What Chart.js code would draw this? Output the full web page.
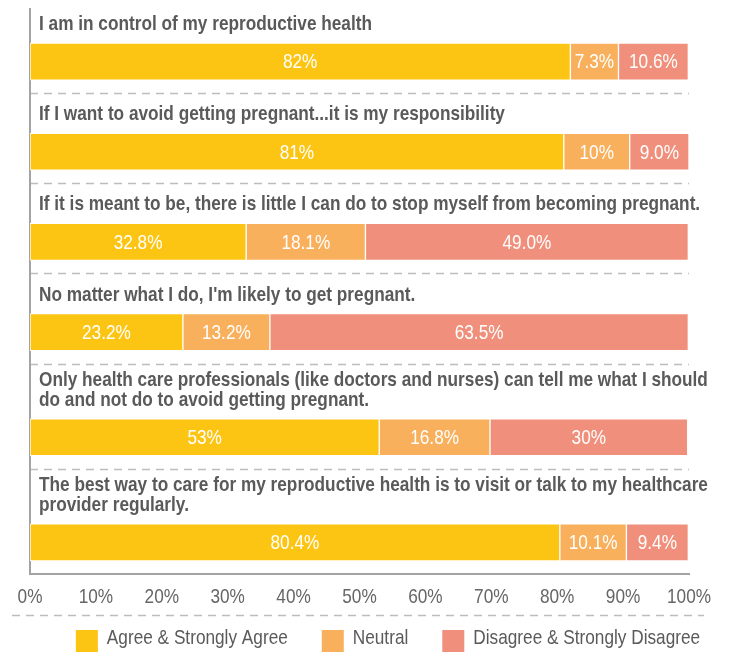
<!DOCTYPE html>
<html>
<head>
<meta charset="utf-8">
<script src="https://cdn.jsdelivr.net/npm/chart.js@4"></script>
<style>
  html, body { margin: 0; padding: 0; background: #fff; }
  #wrap { width: 730px; height: 652px; position: relative; }
</style>
</head>
<body>
<div id="wrap"><canvas id="chart"></canvas></div>
<script>
// ===== DATA =====
const statements = [
    ['I am in control of my reproductive health'],
    ['If I want to avoid getting pregnant...it is my responsibility'],
    ['If it is meant to be, there is little I can do to stop myself from becoming pregnant.'],
    ["No matter what I do, I'm likely to get pregnant."],
    ['Only health care professionals (like doctors and nurses) can tell me what I should',
     'do and not do to avoid getting pregnant.'],
    ['The best way to care for my reproductive health is to visit or talk to my healthcare',
     'provider regularly.']
];
// values kept as printed so the bar labels read exactly as the data
const agree    = ['82', '81', '32.8', '23.2', '53', '80.4'];
const neutral  = ['7.3', '10', '18.1', '13.2', '16.8', '10.1'];
const disagree = ['10.6', '9.0', '49.0', '63.5', '30', '9.4'];
const seriesNames = ['Agree & Strongly Agree', 'Neutral', 'Disagree & Strongly Disagree'];
const seriesColors = ['#fdc513', '#f9b05c', '#f0907c'];
const xTicks = [0, 10, 20, 30, 40, 50, 60, 70, 80, 90, 100];

const FONT = "'Liberation Sans', Arial, sans-serif";
const NARROW = 0.82;          // horizontal squeeze applied to all text
const TEXT_GRAY = '#5a5a5a';
const TICK_GRAY = '#666666';
const AXIS_GRAY = '#a3a3a3';
const DASH_GRAY = '#bdbdbd';

// ===== ROW LAYOUT (in y-scale units) =====
// each row: title lines, then the bar, then a little space before the divider
const LINE_H = 18, BAR_H = 37, AFTER_BAR = 13;
const rows = [];
let cursor = 0;
statements.forEach((lines, i) => {
    const top = cursor;
    const lead = i === 0 ? 17 : (lines.length > 1 ? 19 : 22);
    const barTop = top + lead + LINE_H * lines.length;
    const bottom = barTop + BAR_H + AFTER_BAR;
    rows.push({ top, barTop, center: barTop + BAR_H / 2, bottom, lines });
    cursor = bottom;
});
const totalHeight = cursor;

function buildSeries(values) {
    return values.map((v, i) => ({ x: Number(v), y: rows[i].center }));
}

const seriesValues = [agree, neutral, disagree];

// draw text squeezed horizontally, anchored at x
function narrowText(ctx, text, x, y, align) {
    ctx.save();
    ctx.translate(x, y);
    ctx.scale(NARROW, 1);
    ctx.textAlign = align;
    ctx.fillText(text, 0, 0);
    ctx.restore();
}

// ===== PLUGINS =====
const rowDecorations = {
    id: 'rowDecorations',
    beforeDatasetsDraw(chart) {
        const { ctx, chartArea, scales } = chart;
        const y = scales.y;
        ctx.save();
        // dashed dividers between rows
        ctx.strokeStyle = DASH_GRAY;
        ctx.lineWidth = 1.5;
        ctx.setLineDash([8, 6]);
        rows.slice(0, -1).forEach(r => {
            const py = Math.round(y.getPixelForValue(r.bottom)) + 0.5;
            ctx.beginPath();
            ctx.moveTo(chartArea.left, py);
            ctx.lineTo(chartArea.right, py);
            ctx.stroke();
        });
        // dashed line between tick labels and legend
        const bottomDash = chartArea.bottom + 41.5;
        ctx.beginPath();
        ctx.moveTo(12, bottomDash);
        ctx.lineTo(704, bottomDash);
        ctx.stroke();
        ctx.setLineDash([]);

        // left axis line
        ctx.strokeStyle = AXIS_GRAY;
        ctx.lineWidth = 2;
        ctx.beginPath();
        ctx.moveTo(chartArea.left, chartArea.top);
        ctx.lineTo(chartArea.left, chartArea.bottom);
        ctx.stroke();

        // statement titles
        ctx.fillStyle = TEXT_GRAY;
        ctx.font = 'bold 21px ' + FONT;
        ctx.textBaseline = 'alphabetic';
        rows.forEach(r => {
            const barTopPx = y.getPixelForValue(r.barTop);
            const n = r.lines.length;
            r.lines.forEach((line, k) => {
                const base = barTopPx - 13 - (n - 1 - k) * 20;
                narrowText(ctx, line, chartArea.left + 9, base, 'left');
            });
        });

        // x tick labels
        const x = scales.x;
        ctx.fillStyle = TICK_GRAY;
        ctx.font = '21px ' + FONT;
        ctx.textBaseline = 'middle';
        xTicks.forEach(v => {
            narrowText(ctx, v + '%', x.getPixelForValue(v), chartArea.bottom + 23, 'center');
        });
        ctx.restore();
    },
    afterDatasetsDraw(chart) {
        const { ctx } = chart;
        ctx.save();
        ctx.fillStyle = '#ffffff';
        ctx.font = '21px ' + FONT;
        ctx.textBaseline = 'middle';
        chart.data.datasets.forEach((ds, di) => {
            const meta = chart.getDatasetMeta(di);
            meta.data.forEach((bar, i) => {
                const { x, base, y } = bar.getProps(['x', 'base', 'y'], true);
                narrowText(ctx, seriesValues[di][i] + '%', (x + base) / 2, y + 1, 'center');
            });
        });
        ctx.restore();
    },
    afterDraw(chart) {
        // legend row
        const { ctx, chartArea } = chart;
        ctx.save();
        ctx.font = '21px ' + FONT;
        ctx.textBaseline = 'middle';
        const box = 22, gapText = 9, gapItem = 34;
        const widths = seriesNames.map(n => box + gapText + ctx.measureText(n).width * NARROW);
        const total = widths.reduce((a, b) => a + b, 0) + gapItem * (widths.length - 1);
        let lx = 388 - total / 2;
        const cy = chartArea.bottom + 64;
        seriesNames.forEach((name, i) => {
            ctx.fillStyle = seriesColors[i];
            ctx.fillRect(lx, cy - box / 2 + 3, box, box);
            ctx.fillStyle = TEXT_GRAY;
            narrowText(ctx, name, lx + box + gapText, cy, 'left');
            lx += widths[i] + gapItem;
        });
        ctx.restore();
    }
};

// ===== CHART =====
const chart = new Chart(document.getElementById('chart'), {
    type: 'bar',
    data: {
        datasets: seriesNames.map((name, i) => ({
            label: name,
            data: buildSeries(seriesValues[i]),
            backgroundColor: seriesColors[i],
            borderColor: '#ffffff',
            borderWidth: 1,
            borderSkipped: false,
            barThickness: BAR_H,
            stack: 'rows'
        }))
    },
    options: {
        indexAxis: 'y',
        responsive: true,
        maintainAspectRatio: false,
        animation: false,
        layout: { padding: { top: 8, left: 30, right: 41, bottom: 78 } },
        plugins: {
            legend: { display: false },
            tooltip: { enabled: false }
        },
        scales: {
            y: {
                type: 'linear',
                stacked: true,
                reverse: true,
                offset: false,
                min: 0,
                max: totalHeight,
                display: false
            },
            x: {
                type: 'linear',
                stacked: true,
                min: 0,
                max: 100,
                grid: { display: false, drawTicks: false },
                border: { color: AXIS_GRAY, width: 2 },
                ticks: { display: false },
                afterFit: scale => { scale.height = 0; }
            }
        }
    },
    plugins: [rowDecorations]
});
</script>
</body>
</html>
